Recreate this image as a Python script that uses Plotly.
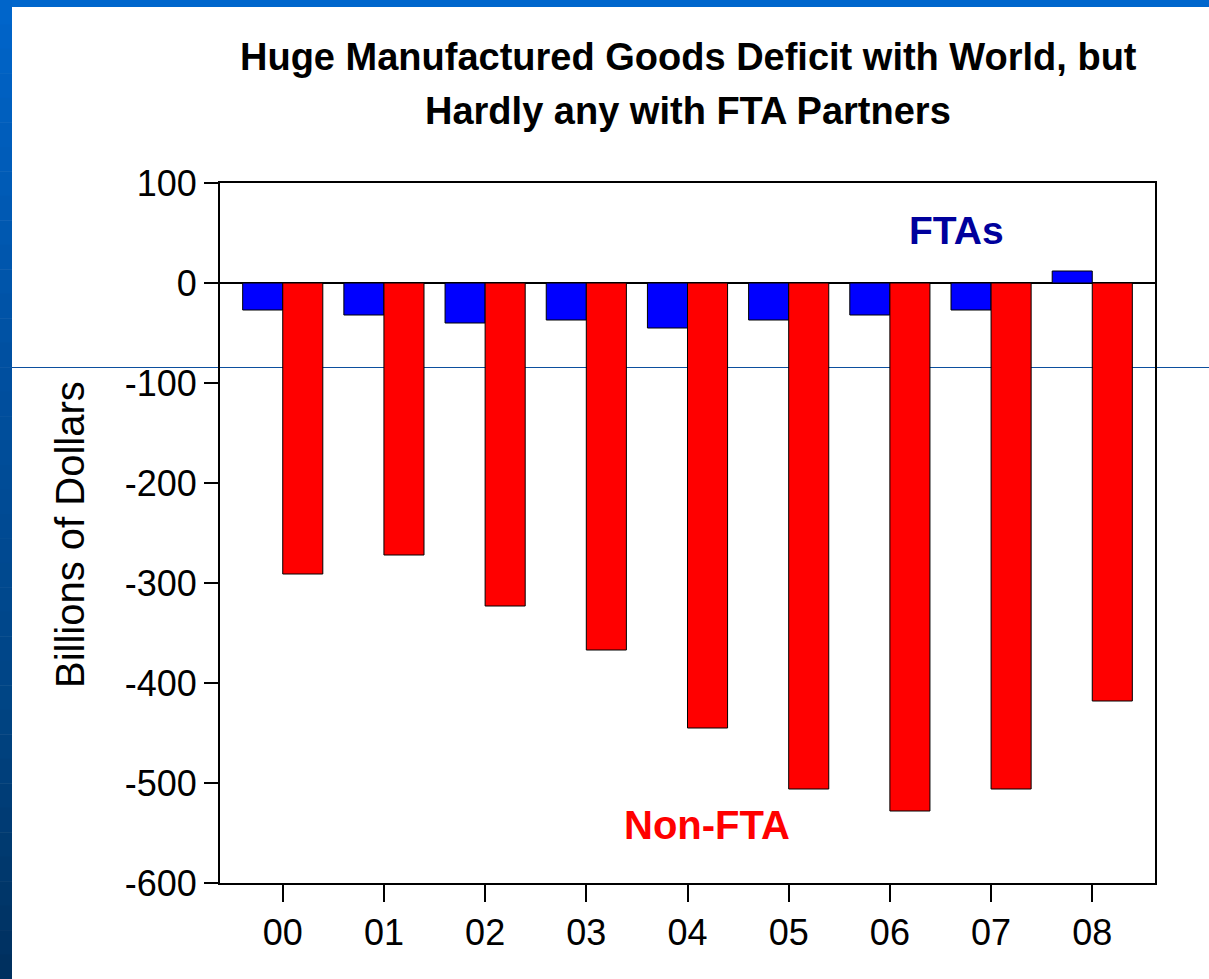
import plotly.graph_objects as go

years = ["00", "01", "02", "03", "04", "05", "06", "07", "08"]
fta = [-27, -32, -40, -37, -45, -37, -32, -27, 12]
non_fta = [-291, -272, -323, -367, -445, -506, -528, -506, -418]
y_ticks = [100, 0, -100, -200, -300, -400, -500, -600]

W, H = 1209, 979
L, R, T, B = 220, 1155, 183, 883
PW, PH = R - L, B - T


def px(x):
    return (x - L) / PW


def py(y):
    return (B - y) / PH


fig = go.Figure()
bw = 0.396
fig.add_trace(go.Bar(x=years, y=fta, name="FTAs", marker=dict(color="#0000FF", line=dict(color="black", width=1)),
                     width=bw, offset=-bw))
fig.add_trace(go.Bar(x=years, y=non_fta, name="Non-FTA", marker=dict(color="#FF0000", line=dict(color="black", width=1)),
                     width=bw, offset=0))

shapes = []
# top strip
shapes.append(dict(type="rect", xref="paper", yref="paper", x0=px(0), x1=px(W), y0=py(7), y1=py(0),
                   fillcolor="#0066CC", line=dict(width=0), layer="below"))
# left strip gradient
stops = [(0, (0x00, 0x66, 0xCC)), (370, (0x00, 0x50, 0xA0)), (700, (0x00, 0x45, 0x85)), (979, (0x00, 0x30, 0x5E))]
n = 40
for i in range(n):
    y0 = i * H / n
    y1 = (i + 1) * H / n
    ym = (y0 + y1) / 2
    for j in range(len(stops) - 1):
        if stops[j][0] <= ym <= stops[j + 1][0]:
            t = (ym - stops[j][0]) / (stops[j + 1][0] - stops[j][0])
            c = tuple(int(stops[j][1][k] + t * (stops[j + 1][1][k] - stops[j][1][k])) for k in range(3))
            break
    shapes.append(dict(type="rect", xref="paper", yref="paper", x0=px(0), x1=px(12), y0=py(y1 + 0.5), y1=py(y0),
                       fillcolor="rgb(%d,%d,%d)" % c, line=dict(width=0), layer="below"))
# thin slide line
shapes.append(dict(type="line", xref="paper", yref="paper", x0=px(12), x1=px(W), y0=py(367.5), y1=py(367.5),
                   line=dict(color="#0c4f9e", width=1), layer="below"))

annotations = [
    dict(text="<b>Huge Manufactured Goods Deficit with World, but</b>", x=px(688), y=py(57), xref="paper", yref="paper",
         showarrow=False, xanchor="center", yanchor="middle", font=dict(size=38, color="black")),
    dict(text="<b>Hardly any with FTA Partners</b>", x=px(688), y=py(111), xref="paper", yref="paper",
         showarrow=False, xanchor="center", yanchor="middle", font=dict(size=38, color="black")),
    dict(text="Billions of Dollars", x=px(70), y=py(535), xref="paper", yref="paper", textangle=-90,
         showarrow=False, xanchor="center", yanchor="middle", font=dict(size=40, color="black")),
    dict(text="<b>FTAs</b>", x=px(956), y=py(230), xref="paper", yref="paper",
         showarrow=False, xanchor="center", yanchor="middle", font=dict(size=39, color="#00009C")),
    dict(text="<b>Non-FTA</b>", x=px(707), y=py(825), xref="paper", yref="paper",
         showarrow=False, xanchor="center", yanchor="middle", font=dict(size=40, color="#FF0000")),
]

fig.update_layout(
    width=W, height=H,
    margin=dict(l=L, r=W - R, t=T, b=H - B, pad=0),
    paper_bgcolor="white", plot_bgcolor="white",
    font=dict(family="Liberation Sans, Arial, sans-serif", color="black"),
    barmode="overlay", showlegend=False,
    shapes=shapes, annotations=annotations,
    xaxis=dict(type="category", categoryorder="array", categoryarray=years, range=[-0.62, 8.62],
               showline=True, linecolor="black", linewidth=2, mirror=True,
               ticks="outside", ticklen=17, tickwidth=2, tickcolor="black",
               tickfont=dict(size=36), showgrid=False),
    yaxis=dict(range=[-600, 100], tickvals=y_ticks, ticktext=[str(v) for v in y_ticks],
               showline=True, linecolor="black", linewidth=2, mirror=True,
               ticks="outside", ticklen=14, tickwidth=2, tickcolor="black",
               tickfont=dict(size=36), showgrid=False,
               zeroline=True, zerolinecolor="black", zerolinewidth=2),
)

fig.write_html("out.html")
